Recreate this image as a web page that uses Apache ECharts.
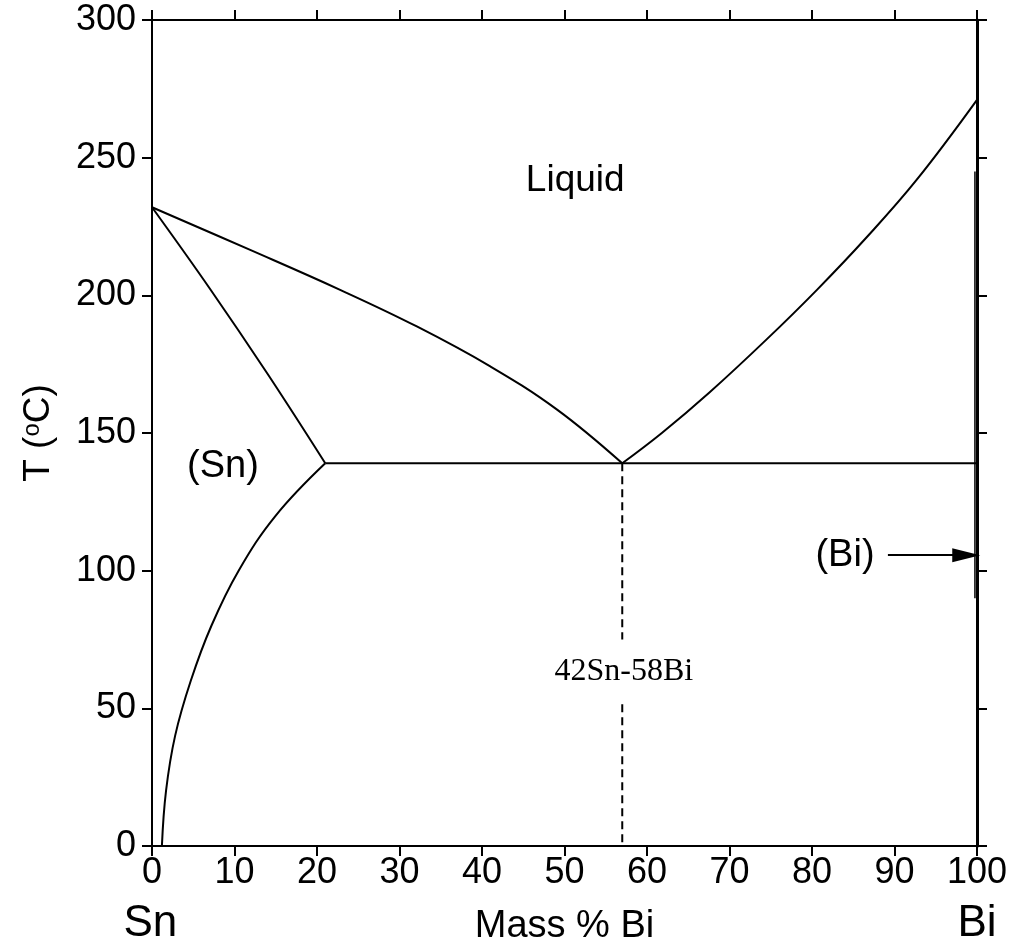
<!DOCTYPE html>
<html>
<head>
  <meta charset="UTF-8">
  <title>Sn-Bi</title>
  <style>
    html, body { margin: 0; padding: 0; background: #fff; }
    #chart { width: 1013px; height: 951px; }
  </style>
</head>
<body>
  <div id="chart"></div>
  <script src="https://cdn.jsdelivr.net/npm/echarts@6/dist/echarts.min.js"></script>
  <script>
    // phase boundaries, [mass % Bi, T in C]
    const liquidusSn = [[0, 232], [11.9, 216.5], [22.8, 202], [32.1, 188.7], [41, 174.2], [49.1, 158.5], [57, 139]];
    const liquidusBi = [[57, 139], [61.8, 150], [67.6, 164.8], [74.5, 184], [80.6, 202], [86.6, 221], [92.7, 242], [100, 271]];
    const solidusSn = [[0, 232], [7, 202.5], [14, 171.5], [21, 139]];
    const solvusSn = [[1.2, 0], [1.7, 20], [2.8, 40], [4.7, 60], [7.2, 80], [10.5, 100], [15, 120], [21, 139]];
    const eutectic = [[21, 139], [100, 139]];
    const solvusBi = [[99.75, 245], [99.75, 90]];
    const eutecticDropTop = [[57, 139], [57, 75]];
    const eutecticDropBottom = [[57, 51.5], [57, 0]];
    const arrowFrom = [89.2, 105.6];
    const arrowTo = [98.7, 105.6];

    // annotation texts and where they sit
    const labelText = ['Liquid', '(Sn)', '(Bi)', '42Sn-58Bi', 'Sn', 'Bi'];
    const labelPos = [[51.3, 241.6], [8.6, 137.8], [84, 105.6], [57.2, 63.5], [-0.2, -28.3], [100, -28.3]];

    const sans = 'Liberation Sans, Arial, sans-serif';
    const black = '#000';

    function curve(data, extra) {
      return Object.assign({
        type: 'line',
        data: data,
        symbol: 'none',
        smooth: 0.4,
        silent: true,
        lineStyle: { color: black, width: 2 }
      }, extra || {});
    }

    const labelStyle = {
      'Liquid': { fontSize: 37 },
      '(Sn)': { fontSize: 38 },
      '(Bi)': { fontSize: 38 },
      '42Sn-58Bi': { fontSize: 32, fontFamily: 'Liberation Serif, Times New Roman, serif' },
      'Sn': { fontSize: 44 },
      'Bi': { fontSize: 44 }
    };

    const chart = echarts.init(document.getElementById('chart'));
    const axisLine = { onZero: false, lineStyle: { color: black, width: 2 } };
    const axisTick = { length: 10, lineStyle: { color: black, width: 2 } };

    chart.setOption({
      animation: false,
      grid: { left: 152, right: 36, top: 20, bottom: 104 },
      xAxis: [{
        type: 'value', min: 0, max: 100, interval: 10,
        name: 'Mass % Bi', nameLocation: 'middle', nameGap: 62,
        nameTextStyle: { fontSize: 38, fontFamily: sans, color: black },
        axisLine: axisLine, axisTick: axisTick,
        axisLabel: { fontSize: 36, fontFamily: sans, color: black, margin: 9 },
        splitLine: { show: false }
      }, {
        type: 'value', min: 0, max: 100, interval: 10, position: 'top',
        axisLine: axisLine, axisTick: axisTick,
        axisLabel: { show: false }, splitLine: { show: false }
      }],
      yAxis: [{
        type: 'value', min: 0, max: 300, interval: 50,
        name: 'T ({sup|o}C)', nameLocation: 'middle', nameGap: 94, nameRotate: 90,
        nameTextStyle: {
          fontSize: 37, fontFamily: sans, color: black,
          rich: { sup: { fontSize: 24, fontFamily: sans, color: black, verticalAlign: 'top', padding: [0, 0, 14, 0] } }
        },
        axisLine: axisLine, axisTick: axisTick,
        axisLabel: { fontSize: 36, fontFamily: sans, color: black, margin: 16 },
        splitLine: { show: false }
      }, {
        type: 'value', min: 0, max: 300, interval: 50, position: 'right',
        axisLine: { onZero: false, lineStyle: { color: black, width: 3 } }, axisTick: axisTick,
        axisLabel: { show: false }, splitLine: { show: false }
      }],
      series: [
        curve(liquidusSn),
        curve(liquidusBi),
        curve(solidusSn),
        curve(solvusSn),
        curve(eutectic, { smooth: false }),
        curve(solvusBi, { smooth: false, lineStyle: { color: black, width: 1.5 } }),
        curve(eutecticDropTop, { smooth: false, lineStyle: { color: black, width: 2, type: [8, 5] } }),
        curve(eutecticDropBottom, { smooth: false, lineStyle: { color: black, width: 2, type: [8, 5] } }),
        {
          type: 'line',
          data: [],
          silent: true,
          markLine: {
            silent: true,
            symbol: ['none', 'triangle'],
            symbolSize: [14, 28],
            label: { show: false },
            lineStyle: { color: black, width: 2, type: 'solid' },
            data: [[{ coord: arrowFrom }, { coord: arrowTo }]]
          }
        },
        {
          type: 'scatter',
          silent: true,
          clip: false,
          symbolSize: 0,
          itemStyle: { opacity: 1 },
          data: labelText.map((t, i) => ({
            value: labelPos[i],
            label: Object.assign({
              show: true, position: 'inside', formatter: t,
              color: black, opacity: 1, fontFamily: sans
            }, labelStyle[t])
          }))
        }
      ]
    });
  </script>
</body>
</html>
